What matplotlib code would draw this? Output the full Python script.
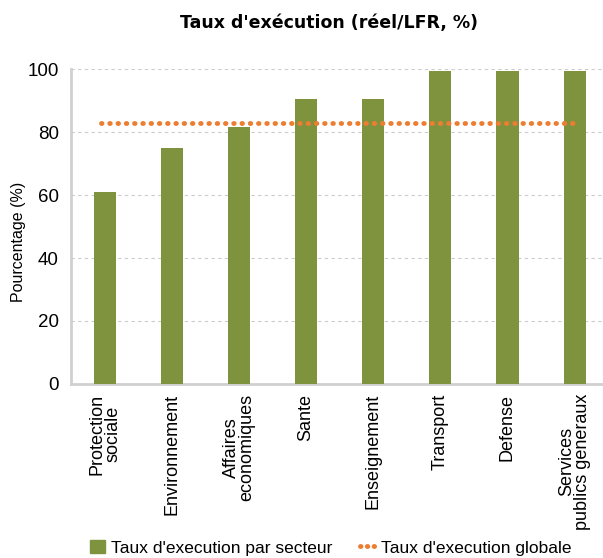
import matplotlib.pyplot as plt
from matplotlib.lines import Line2D
from matplotlib.patches import Patch

secteurs = ["Protection\nsociale", "Environnement", "Affaires\neconomiques", "Sante",
            "Enseignement", "Transport", "Defense", "Services\npublics generaux"]
taux_secteur = [61, 75, 81.5, 90.5, 90.5, 99.5, 99.5, 99.5]
taux_global = 83

vert = "#7F923D"
orange = "#ED7D31"
pointille = (0, (0.1, 1.6))

plt.rcParams['font.family'] = ['Liberation Sans', 'DejaVu Sans']

fig = plt.figure(figsize=(6.03, 5.58), dpi=100)
ax = fig.add_axes([0.118, 0.312, 0.885, 0.564])

x = list(range(len(secteurs)))
ax.bar(x, taux_secteur, width=0.33, color=vert, zorder=3)
ax.plot([x[0] - 0.05, x[-1] + 0.05], [taux_global, taux_global], color=orange,
        linestyle=pointille, linewidth=3.5, dash_capstyle='round', zorder=4)

ax.set_xlim(-0.5, 7.45)
ax.set_ylim(0, 100)
ax.set_yticks([0, 20, 40, 60, 80, 100])
ax.yaxis.grid(True, color="#cccccc", linestyle=(0, (3, 3)), linewidth=0.8)
ax.set_axisbelow(True)

ax.set_xticks(x)
ax.set_xticklabels(secteurs, rotation=90, fontsize=13, linespacing=0.9)
ax.tick_params(axis='y', labelsize=13.5, length=0, pad=9)
ax.tick_params(axis='x', length=0, pad=7)

for s in ['top', 'right']:
    ax.spines[s].set_visible(False)
ax.spines['left'].set_color("#d0d0d0")
ax.spines['left'].set_linewidth(2)
ax.spines['bottom'].set_color("#d0d0d0")
ax.spines['bottom'].set_linewidth(2)

ax.set_ylabel("Pourcentage (%)", fontsize=11.5)
ax.yaxis.set_label_coords(-0.085, 0.45)

fig.text(0.545, 0.958, "Taux d'exécution (réel/LFR, %)", ha='center', va='center',
         fontsize=12.5, fontweight='bold', family=['DejaVu Sans'])

handles = [Patch(color=vert, label="Taux d'execution par secteur"),
           Line2D([0], [0], color=orange, linestyle=(0, (0.1, 1.3)), linewidth=3.5,
                  dash_capstyle='round', label="Taux d'execution globale")]
fig.legend(handles=handles, loc='center', bbox_to_anchor=(0.548, 0.018), ncol=2,
           frameon=False, handlelength=0.9, handletextpad=0.3, columnspacing=1.6,
           prop={'size': 12.5})

fig.savefig("out.png", dpi=100)
